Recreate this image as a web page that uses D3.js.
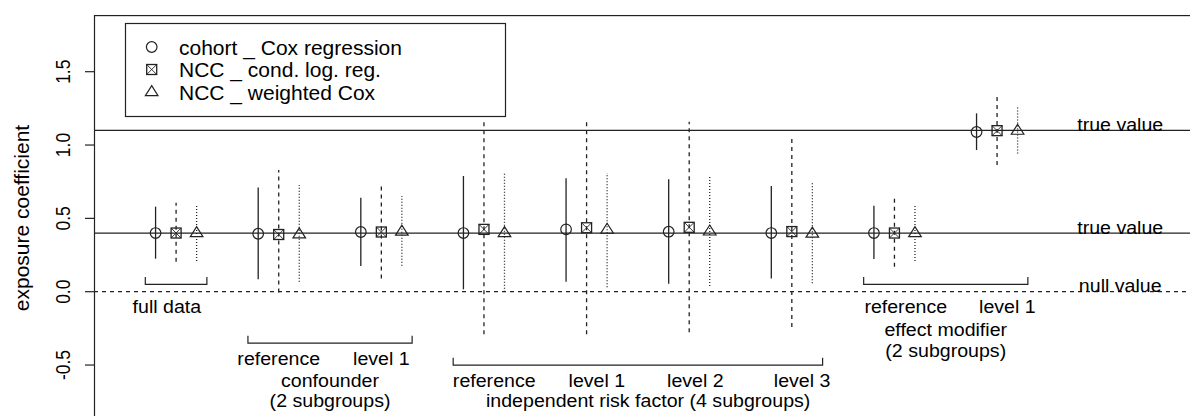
<!DOCTYPE html>
<html>
<head>
<meta charset="utf-8">
<script src="https://cdn.jsdelivr.net/npm/d3@7"></script>
<style>
  body { margin: 0; background: #fff; }
  text { font-family: "Liberation Sans", Arial, sans-serif; fill: #000; }
</style>
</head>
<body>
<div id="chart"></div>
<script>
// subgroup slots along x (1 = full data ... 9 = effect modifier level 1)
const groups = [1, 2, 3, 4, 5, 6, 7, 8, 9];
const methods = ["cohort _ Cox regression", "NCC _ cond. log. reg.", "NCC _ weighted Cox"];

// cohort, Cox regression
const coxEst = [0.40, 0.395, 0.407, 0.40, 0.425, 0.409, 0.40, 0.40, 1.089];
const coxLo  = [0.225, 0.085, 0.175, 0.016, 0.068, 0.055, 0.09, 0.223, 0.966];
const coxHi  = [0.58, 0.71, 0.64, 0.789, 0.773, 0.766, 0.72, 0.586, 1.216];
// NCC, conditional logistic regression
const clrEst = [0.40, 0.39, 0.407, 0.425, 0.436, 0.439, 0.41, 0.40, 1.098];
const clrLo  = [0.205, -0.005, 0.09, -0.29, -0.29, -0.277, -0.24, 0.17, 0.864];
const clrHi  = [0.607, 0.83, 0.743, 1.159, 1.159, 1.159, 1.063, 0.637, 1.334];
// NCC, weighted Cox
const wcEst = [0.40, 0.392, 0.41, 0.40, 0.423, 0.411, 0.397, 0.40, 1.098];
const wcLo  = [0.21, 0.068, 0.177, 0.0, 0.03, 0.039, 0.057, 0.21, 0.943];
const wcHi  = [0.598, 0.727, 0.652, 0.811, 0.81, 0.789, 0.743, 0.598, 1.266];

const yTicks = [-0.5, 0, 0.5, 1.0, 1.5];
const trueValues = [1.1, 0.4];
const nullValue = 0;

// brackets under the subgroups (x span, level)
const bracketFrom  = [0.7, 1.7, 3.7, 7.7];
const bracketTo    = [1.3, 3.3, 7.3, 9.3];
const bracketLevel = [0.05, -0.35, -0.5, 0.05];

// text under the brackets
const labelText = ["full data",
  "reference", "level 1", "confounder", "(2 subgroups)",
  "reference", "level 1", "level 2", "level 3", "independent risk factor (4 subgroups)",
  "reference", "level 1", "effect modifier", "(2 subgroups)"];
const labelX = [0.91, 2.0, 3.0, 2.5, 2.5, 4.1, 5.1, 6.06, 7.1, 5.6, 8.11, 9.1, 8.5, 8.5];
const labelY = [-0.147, -0.5, -0.5, -0.648, -0.784, -0.648, -0.648, -0.648, -0.648, -0.788,
  -0.147, -0.147, -0.30, -0.443];

const W = 1190, H = 416;
const offset = 0.2;   // spacing of the three methods within a slot
const fs = 17.5, stretch = 1.12;

const svg = d3.select('#chart').append('svg')
    .attr('width', W)
    .attr('height', H);

svg.append('rect').attr('width', W).attr('height', H).attr('fill', '#fff');

const x = d3.scaleLinear().domain([0.2, 10.88]).range([94, 1190]);
const y = d3.scaleLinear().domain([0, 1.5]).range([291.7, 71.7]);
const plotTop = y(1.886), plotBottom = y(-0.9);
const plotLeft = x(0.2), plotRight = x(10.9);

const ink = '#222';

// plot box
svg.append('rect')
    .attr('x', plotLeft + 0.5).attr('y', plotTop + 0.5)
    .attr('width', plotRight - plotLeft).attr('height', plotBottom - plotTop)
    .attr('fill', 'none').attr('stroke', ink).attr('stroke-width', 1.2);

// reference lines
trueValues.forEach(v => {
    svg.append('line')
        .attr('x1', plotLeft).attr('x2', plotRight)
        .attr('y1', y(v)).attr('y2', y(v))
        .attr('stroke', ink).attr('stroke-width', 1.2);
    stretchedText(x(10.2), y(v) + 0.5, 'true value', fs);
});
svg.append('line')
    .attr('x1', plotLeft).attr('x2', plotRight)
    .attr('y1', y(nullValue)).attr('y2', y(nullValue))
    .attr('stroke', ink).attr('stroke-width', 1.2)
    .attr('stroke-dasharray', '4,4');
stretchedText(x(10.2), y(nullValue), 'null value', fs);

// y axis
const fmt = v => d3.format('.1f')(v).replace('\u2212', '-');
yTicks.forEach(t => {
    svg.append('line')
        .attr('x1', plotLeft - 9).attr('x2', plotLeft)
        .attr('y1', y(t)).attr('y2', y(t))
        .attr('stroke', ink).attr('stroke-width', 1.2);
    svg.append('text')
        .attr('transform', 'translate(70,' + y(t) + ') scale(' + stretch + ',1) rotate(-90)')
        .attr('text-anchor', 'middle')
        .style('font-size', fs + 'px')
        .text(fmt(t));
});
svg.append('text')
    .attr('transform', 'translate(29,218) rotate(-90)')
    .attr('text-anchor', 'middle')
    .style('font-size', '21px')
    .text('exposure coefficient');

// estimates with intervals
const series = [
    { est: coxEst, lo: coxLo, hi: coxHi, shift: -offset, dash: null, sym: 'circle' },
    { est: clrEst, lo: clrLo, hi: clrHi, shift: 0, dash: '4,4', sym: 'square' },
    { est: wcEst, lo: wcLo, hi: wcHi, shift: offset, dash: '1,2', sym: 'triangle' }
];

series.forEach(s => {
    const g = svg.append('g');
    g.selectAll('line')
        .data(groups)
        .enter().append('line')
        .attr('x1', d => x(d + s.shift))
        .attr('x2', d => x(d + s.shift))
        .attr('y1', (d, i) => y(s.lo[i]))
        .attr('y2', (d, i) => y(s.hi[i]))
        .attr('stroke', ink).attr('stroke-width', 1.3)
        .attr('stroke-dasharray', s.dash);
    groups.forEach((d, i) => drawSymbol(g, s.sym, x(d + s.shift), y(s.est[i])));
});

function drawSymbol (g, sym, cx, cy) {
    if (sym == 'circle') {
        g.append('circle').attr('cx', cx).attr('cy', cy).attr('r', 5.3)
            .attr('fill', 'none').attr('stroke', ink).attr('stroke-width', 1.2);
    } else if (sym == 'square') {
        let h = 5;
        g.append('rect').attr('x', cx - h).attr('y', cy - h)
            .attr('width', 2 * h).attr('height', 2 * h)
            .attr('fill', 'none').attr('stroke', ink).attr('stroke-width', 1.3);
        g.append('path')
            .attr('d', 'M' + (cx - h) + ',' + (cy - h) + 'L' + (cx + h) + ',' + (cy + h) +
                       'M' + (cx - h) + ',' + (cy + h) + 'L' + (cx + h) + ',' + (cy - h))
            .attr('stroke', ink).attr('stroke-width', 0.9);
    } else {
        g.append('path')
            .attr('d', 'M' + (cx - 6.3) + ',' + (cy + 3.6) + 'L' + (cx + 6.3) + ',' + (cy + 3.6) +
                       'L' + cx + ',' + (cy - 6.4) + 'Z')
            .attr('fill', 'none').attr('stroke', ink).attr('stroke-width', 1.2);
    }
}

// brackets
bracketFrom.forEach((b, i) => {
    const y0 = y(bracketLevel[i]), y1 = y(bracketLevel[i] + 0.05);
    svg.append('path')
        .attr('d', 'M' + x(b) + ',' + y1 + 'V' + y0 + 'H' + x(bracketTo[i]) + 'V' + y1)
        .attr('fill', 'none').attr('stroke', ink).attr('stroke-width', 1.2);
});

labelText.forEach((t, i) => stretchedText(x(labelX[i]), y(labelY[i]), t, fs));

function stretchedText (px, py, str, size) {
    svg.append('text')
        .attr('transform', 'translate(' + px + ',' + py + ') scale(' + stretch + ',1)')
        .attr('text-anchor', 'middle')
        .style('font-size', size + 'px')
        .text(str);
}

// legend
const lg = svg.append('g');
lg.append('rect')
    .attr('x', 125.5).attr('y', 23.5).attr('width', 380).attr('height', 93)
    .attr('fill', '#fff').attr('stroke', ink).attr('stroke-width', 1.2);
methods.forEach((m, i) => {
    const cy = 47 + i * 22.5;
    drawSymbol(lg, series[i].sym, 151.7, cy);
    lg.append('text')
        .attr('x', 179).attr('y', cy + 7.5)
        .style('font-size', '21px')
        .text(m);
});
</script>
</body>
</html>
